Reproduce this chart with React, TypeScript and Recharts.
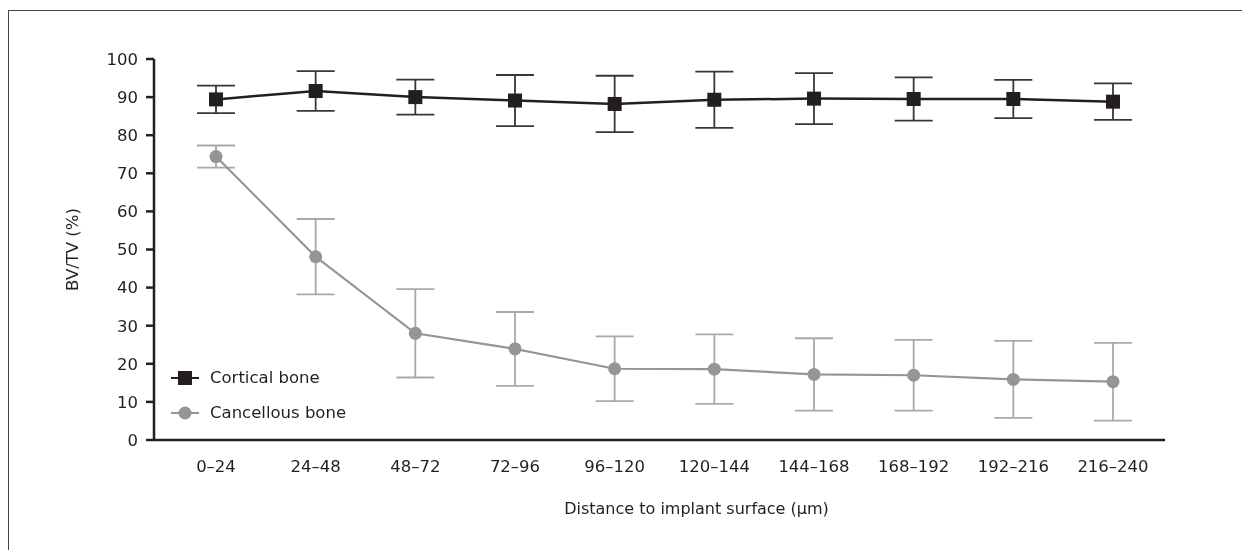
import React from "react";
import {
  LineChart,
  Line,
  XAxis,
  YAxis,
  ErrorBar,
  Legend,
  Label,
} from "recharts";

// values
const categories = [
  "0–24",
  "24–48",
  "48–72",
  "72–96",
  "96–120",
  "120–144",
  "144–168",
  "168–192",
  "192–216",
  "216–240",
];
const corticalMean = [89.4, 91.6, 90.0, 89.1, 88.2, 89.3, 89.6, 89.5, 89.5, 88.8];
const corticalSd = [3.6, 5.2, 4.6, 6.7, 7.4, 7.4, 6.7, 5.7, 5.0, 4.8];
const cancellousMean = [74.4, 48.1, 28.0, 23.9, 18.7, 18.6, 17.2, 17.0, 15.9, 15.3];
const cancellousSd = [2.9, 9.9, 11.6, 9.7, 8.5, 9.1, 9.5, 9.3, 10.1, 10.2];
const yTicks = [0, 10, 20, 30, 40, 50, 60, 70, 80, 90, 100];

const series = [
  { name: "Cortical bone", color: "#231f20", shape: "square" },
  { name: "Cancellous bone", color: "#939598", shape: "circle" },
];

const data = categories.map((c, i) => ({
  name: c,
  cortical: corticalMean[i],
  corticalErr: corticalSd[i],
  cancellous: cancellousMean[i],
  cancellousErr: cancellousSd[i],
}));

const FONT = "'DejaVu Sans', sans-serif";
const INK = "#231f20";

const SquareDot = (props: any) => {
  const { cx, cy, index } = props;
  if (cx == null || cy == null) return null;
  return <rect key={index} x={cx - 7} y={cy - 7} width={14} height={14} fill={INK} />;
};

const LegendContent = () => (
  <div style={{ fontFamily: FONT, fontSize: 16.5, color: INK }}>
    {series.map((s) => (
      <div key={s.name} style={{ display: "flex", alignItems: "center", height: 35 }}>
        <svg width={28} height={16} style={{ marginRight: 11 }}>
          <line x1={0} y1={8} x2={28} y2={8} stroke={s.color} strokeWidth={2} />
          {s.shape === "square" ? (
            <rect x={7} y={1} width={14} height={14} fill={s.color} />
          ) : (
            <circle cx={14} cy={8} r={6.5} fill={s.color} />
          )}
        </svg>
        <span>{s.name}</span>
      </div>
    ))}
  </div>
);

export default function App() {
  return (
    <>
      {/* frame around the figure, running off the right and bottom */}
      <div
        style={{
          position: "fixed",
          left: 8,
          top: 10,
          width: 1400,
          height: 700,
          borderLeft: "1.5px solid #444",
          borderTop: "1.5px solid #444",
          pointerEvents: "none",
        }}
      />
      <div style={{ position: "relative", width: 1226, height: 534, overflow: "hidden" }}>
        <LineChart
          width={1226}
          height={534}
          data={data}
          margin={{ top: 51, right: 69, left: 86, bottom: 42 }}
        >
          <XAxis
            dataKey="name"
            type="category"
            padding={{ left: 62, right: 52 }}
            axisLine={{ stroke: INK, strokeWidth: 2.5 }}
            tickLine={false}
            tickSize={0}
            tickMargin={20}
            height={60}
            interval={0}
            tick={{ fill: INK, fontSize: 16.5, fontFamily: FONT }}
          >
            <Label
              content={(p: any) => {
                const vb = p.viewBox;
                return (
                  <text
                    x={vb.x + vb.width / 2 + 37}
                    y={vb.y + vb.height + 8}
                    textAnchor="middle"
                    dominantBaseline="central"
                    fill={INK}
                    fontSize={16}
                    fontFamily={FONT}
                  >
                    Distance to implant surface (μm)
                  </text>
                );
              }}
            />
          </XAxis>
          <YAxis
            domain={[0, 100]}
            ticks={yTicks}
            interval={0}
            width={60}
            axisLine={{ stroke: INK, strokeWidth: 2.5 }}
            tickLine={{ stroke: INK, strokeWidth: 2.5 }}
            tickSize={8}
            tickMargin={8}
            tick={{ fill: INK, fontSize: 16.5, fontFamily: FONT }}
          >
            <Label
              content={(p: any) => {
                const vb = p.viewBox;
                const cx = vb.x - 22;
                const cy = vb.y + vb.height / 2;
                return (
                  <text
                    x={cx}
                    y={cy}
                    transform={`rotate(-90, ${cx}, ${cy})`}
                    textAnchor="middle"
                    dominantBaseline="central"
                    fill={INK}
                    fontSize={16.5}
                    fontFamily={FONT}
                  >
                    BV/TV (%)
                  </text>
                );
              }}
            />
          </YAxis>
          <Legend
            layout="horizontal"
            verticalAlign="middle"
            align="center"
            content={<LegendContent />}
            wrapperStyle={{ position: "absolute", left: 163, top: 352, width: 220, bottom: "auto" }}
          />
          <Line
            dataKey="cancellous"
            name="Cancellous bone"
            stroke="#939598"
            strokeWidth={2.2}
            dot={{ r: 6.5, fill: "#939598", stroke: "none" }}
            activeDot={false}
            isAnimationActive={false}
          >
            <ErrorBar dataKey="cancellousErr" width={19} stroke="#a7a9ac" strokeWidth={1.8} />
          </Line>
          <Line
            dataKey="cortical"
            name="Cortical bone"
            stroke={INK}
            strokeWidth={2.5}
            dot={<SquareDot />}
            activeDot={false}
            isAnimationActive={false}
          >
            <ErrorBar dataKey="corticalErr" width={19} stroke="#3a3637" strokeWidth={1.8} />
          </Line>
        </LineChart>
      </div>
    </>
  );
}
